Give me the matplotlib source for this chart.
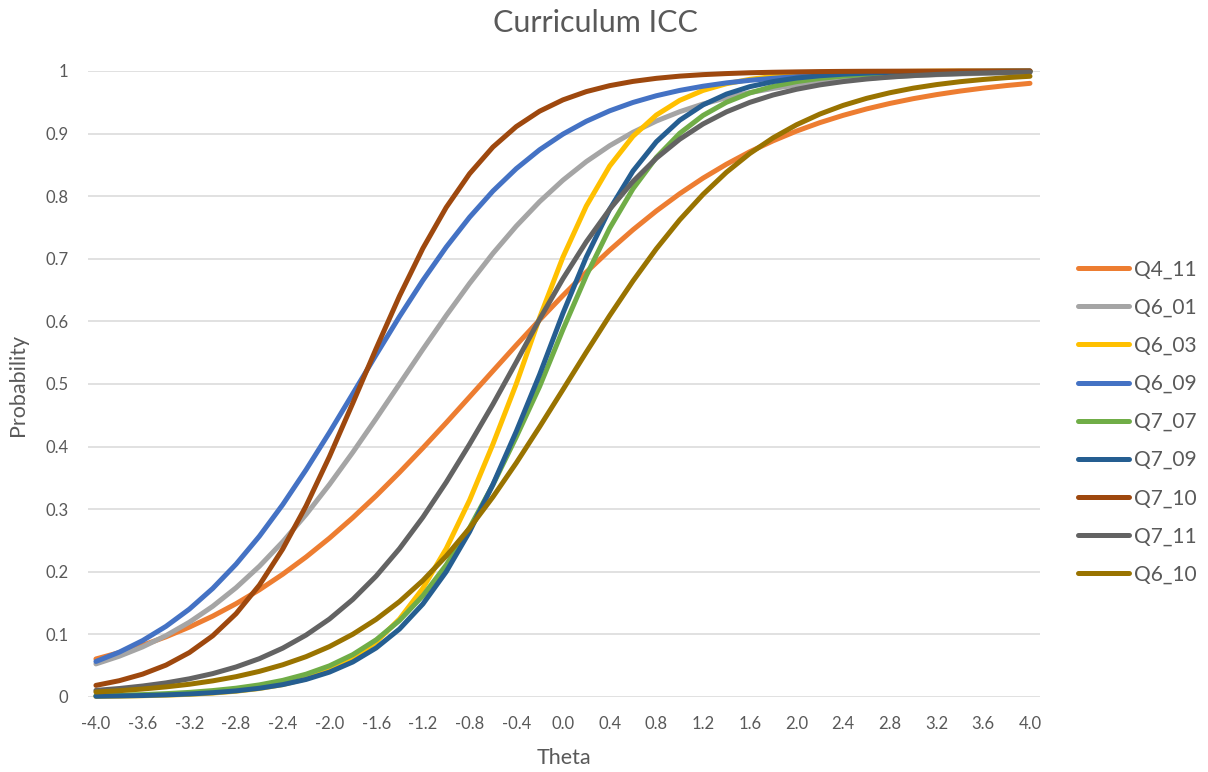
import matplotlib
matplotlib.use("Agg")
import matplotlib.pyplot as plt

plt.rcParams['font.family'] = ['Lato', 'DejaVu Sans']

# ability grid (category axis of the chart)
theta = [-4.0, -3.8, -3.6, -3.4, -3.2, -3.0, -2.8, -2.6, -2.4, -2.2, -2.0,
         -1.8, -1.6, -1.4, -1.2, -1.0, -0.8, -0.6, -0.4, -0.2, 0.0,
         0.2, 0.4, 0.6, 0.8, 1.0, 1.2, 1.4, 1.6, 1.8, 2.0,
         2.2, 2.4, 2.6, 2.8, 3.0, 3.2, 3.4, 3.6, 3.8, 4.0]

# item characteristic curves, probability of a correct answer at each theta
q4_11 = [0.0607, 0.0709, 0.0826, 0.0961, 0.1116, 0.1291, 0.1490, 0.1712, 0.1961, 0.2236, 0.2537,
         0.2864, 0.3214, 0.3587, 0.3977, 0.4380, 0.4793, 0.5207, 0.5620, 0.6023, 0.6413,
         0.6786, 0.7136, 0.7463, 0.7764, 0.8039, 0.8288, 0.8510, 0.8709, 0.8884, 0.9039,
         0.9174, 0.9291, 0.9393, 0.9481, 0.9557, 0.9622, 0.9678, 0.9726, 0.9767, 0.9802]
q6_01 = [0.0528, 0.0651, 0.0800, 0.0980, 0.1194, 0.1448, 0.1745, 0.2088, 0.2479, 0.2915, 0.3394,
         0.3908, 0.4447, 0.5000, 0.5553, 0.6092, 0.6606, 0.7085, 0.7521, 0.7912, 0.8255,
         0.8552, 0.8806, 0.9020, 0.9200, 0.9349, 0.9472, 0.9572, 0.9654, 0.9721, 0.9776,
         0.9819, 0.9855, 0.9883, 0.9906, 0.9925, 0.9940, 0.9952, 0.9961, 0.9969, 0.9975]
q6_03 = [0.0009, 0.0013, 0.0020, 0.0029, 0.0042, 0.0062, 0.0092, 0.0135, 0.0198, 0.0290, 0.0423,
         0.0612, 0.0879, 0.1245, 0.1736, 0.2369, 0.3143, 0.4037, 0.5000, 0.6059, 0.7027,
         0.7842, 0.8481, 0.8957, 0.9296, 0.9530, 0.9689, 0.9796, 0.9866, 0.9912, 0.9943,
         0.9963, 0.9976, 0.9984, 0.9990, 0.9993, 0.9996, 0.9998, 0.9998, 0.9999, 0.9999]
q6_09 = [0.0567, 0.0716, 0.0901, 0.1128, 0.1403, 0.1733, 0.2121, 0.2568, 0.3073, 0.3630, 0.4225,
         0.4844, 0.5467, 0.6077, 0.6654, 0.7186, 0.7663, 0.8081, 0.8439, 0.8741, 0.8991,
         0.9196, 0.9363, 0.9497, 0.9604, 0.9689, 0.9756, 0.9809, 0.9850, 0.9883, 0.9909,
         0.9929, 0.9944, 0.9957, 0.9966, 0.9974, 0.9980, 0.9984, 0.9988, 0.9990, 0.9992]
q7_07 = [0.0020, 0.0028, 0.0038, 0.0053, 0.0073, 0.0102, 0.0140, 0.0193, 0.0265, 0.0364, 0.0497,
         0.0676, 0.0913, 0.1221, 0.1616, 0.2108, 0.2701, 0.3389, 0.4153, 0.4959, 0.5870,
         0.6730, 0.7487, 0.8118, 0.8619, 0.9004, 0.9290, 0.9499, 0.9648, 0.9754, 0.9829,
         0.9881, 0.9918, 0.9943, 0.9961, 0.9973, 0.9981, 0.9987, 0.9991, 0.9994, 0.9996]
q7_09 = [0.0011, 0.0016, 0.0023, 0.0033, 0.0047, 0.0068, 0.0097, 0.0139, 0.0197, 0.0280, 0.0397,
         0.0559, 0.0783, 0.1085, 0.1485, 0.2000, 0.2639, 0.3394, 0.4241, 0.5150, 0.6130,
         0.7027, 0.7790, 0.8402, 0.8869, 0.9213, 0.9458, 0.9630, 0.9749, 0.9830, 0.9886,
         0.9923, 0.9948, 0.9965, 0.9977, 0.9984, 0.9990, 0.9993, 0.9995, 0.9997, 0.9998]
q7_10 = [0.0185, 0.0260, 0.0365, 0.0509, 0.0709, 0.0977, 0.1330, 0.1787, 0.2364, 0.3052, 0.3840,
         0.4694, 0.5566, 0.6405, 0.7166, 0.7820, 0.8358, 0.8784, 0.9111, 0.9357, 0.9538,
         0.9670, 0.9765, 0.9833, 0.9882, 0.9917, 0.9941, 0.9958, 0.9971, 0.9979, 0.9985,
         0.9990, 0.9993, 0.9995, 0.9996, 0.9997, 0.9998, 0.9999, 0.9999, 0.9999, 1.0000]
q7_11 = [0.0105, 0.0135, 0.0175, 0.0225, 0.0290, 0.0373, 0.0479, 0.0612, 0.0780, 0.0989, 0.1245,
         0.1558, 0.1931, 0.2369, 0.2870, 0.3430, 0.4037, 0.4675, 0.5349, 0.6035, 0.6682,
         0.7271, 0.7790, 0.8235, 0.8606, 0.8909, 0.9153, 0.9346, 0.9498, 0.9616, 0.9707,
         0.9777, 0.9830, 0.9871, 0.9902, 0.9926, 0.9944, 0.9958, 0.9968, 0.9976, 0.9982]
q6_10 = [0.0079, 0.0100, 0.0127, 0.0161, 0.0203, 0.0257, 0.0324, 0.0409, 0.0514, 0.0644, 0.0805,
         0.1002, 0.1240, 0.1524, 0.1860, 0.2251, 0.2697, 0.3195, 0.3738, 0.4315, 0.4910,
         0.5508, 0.6092, 0.6646, 0.7159, 0.7621, 0.8028, 0.8381, 0.8681, 0.8932, 0.9140,
         0.9311, 0.9450, 0.9562, 0.9652, 0.9725, 0.9782, 0.9828, 0.9864, 0.9893, 0.9915]

items = ["Q4_11", "Q6_01", "Q6_03", "Q6_09", "Q7_07", "Q7_09", "Q7_10", "Q7_11", "Q6_10"]
curves = [q4_11, q6_01, q6_03, q6_09, q7_07, q7_09, q7_10, q7_11, q6_10]
colors = ["#ED7D31", "#A5A5A5", "#FFC000", "#4472C4", "#70AD47",
          "#255E91", "#9E480E", "#636363", "#997300"]

xtick_vals = [-4.0, -3.6, -3.2, -2.8, -2.4, -2.0, -1.6, -1.2, -0.8, -0.4, 0.0,
              0.4, 0.8, 1.2, 1.6, 2.0, 2.4, 2.8, 3.2, 3.6, 4.0]
ytick_vals = [0, 0.1, 0.2, 0.3, 0.4, 0.5, 0.6, 0.7, 0.8, 0.9, 1]
ytick_labels = ["0", "0.1", "0.2", "0.3", "0.4", "0.5", "0.6", "0.7", "0.8", "0.9", "1"]

text_col = "#595959"
grid_col = "#D9D9D9"

fig = plt.figure(figsize=(12.08, 7.72), dpi=100)
ax = fig.add_axes([0.0728, 0.0972, 0.7881, 0.8109])

for name, ys, c in zip(items, curves, colors):
    ax.plot(theta, ys, color=c, lw=3.6, label=name, solid_capstyle='round',
            solid_joinstyle='round', clip_on=False, zorder=3)

ax.set_xlim(-4.0685, 4.0856)
ax.set_ylim(0, 1)
ax.set_xticks(xtick_vals)
ax.set_xticklabels(["%.1f" % v for v in xtick_vals])
ax.set_yticks(ytick_vals)
ax.set_yticklabels(ytick_labels)
ax.tick_params(axis='both', length=0, labelsize=12, labelcolor=text_col)
ax.tick_params(axis='y', pad=14)
ax.tick_params(axis='x', pad=14)
ax.grid(axis='y', color=grid_col, lw=1.1, zorder=0)
for s in ax.spines.values():
    s.set_visible(False)

fig.text(0.4926, 1 - 23 / 772, "Curriculum ICC", ha='center', va='center',
         fontsize=22, color=text_col)
fig.text(564 / 1208, 1 - 758 / 772, "Theta", ha='center', va='center',
         fontsize=15.5, color=text_col)
fig.text(18 / 1208, 1 - 385 / 772, "Probability", ha='center', va='center',
         rotation=90, fontsize=15.5, color=text_col)

leg = fig.legend(loc='center left', bbox_to_anchor=(1078 / 1208, 1 - 422 / 772),
                 frameon=False, fontsize=15, handlelength=2.45, handletextpad=0.25,
                 labelspacing=0.87, borderpad=0, borderaxespad=0)
for t in leg.get_texts():
    t.set_color(text_col)
for h in leg.get_lines():
    h.set_linewidth(3.6)
    h.set_solid_capstyle('round')

fig.savefig("out.png", dpi=100)
